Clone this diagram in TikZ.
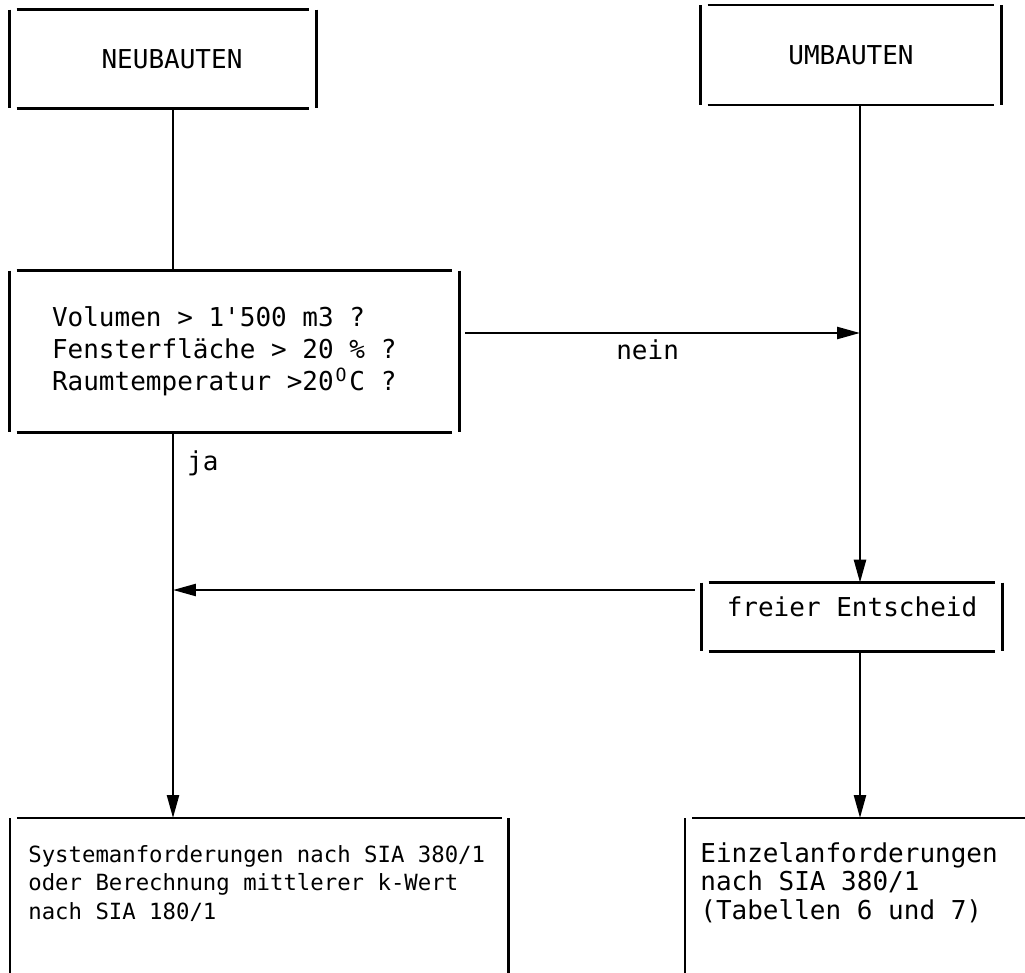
\documentclass[tikz,border=0pt]{standalone}
\usepackage{fontspec}
\setmonofont{DejaVu Sans Mono}
\usetikzlibrary{arrows.meta,calc}
\tikzset{
  boxline/.style  = {line width=1.4pt},
  plain/.style    = {line width=1.4pt},
  flow/.style     = {line width=1.4pt, -{Triangle[length=4.6mm,width=2.4mm]}},
  plotbox/.style  = {inner sep=0pt, font=\ttfamily\fontsize{14.8}{18.2}\selectfont,
                     execute at begin node={\spaceskip=0.602em\xspaceskip=0.602em\relax}},
  tightbox/.style = {font=\ttfamily\fontsize{14.8}{16.2}\selectfont},
  smallbox/.style = {font=\ttfamily\fontsize{12.7}{16.2}\selectfont},
  flowlab/.style  = {font=\ttfamily\fontsize{14.8}{18}\selectfont},
}
% four loose strokes round a box
\newcommand{\drawboxlines}[1]{%
  \draw[boxline] ([xshift=1.4mm]#1.north west) -- ([xshift=-1.4mm]#1.north east);
  \draw[boxline] ([xshift=1.4mm]#1.south west) -- ([xshift=-1.4mm]#1.south east);
  \draw[boxline] (#1.north west) -- (#1.south west);
  \draw[boxline] (#1.north east) -- (#1.south east);
}
% box running off the lower edge
\newcommand{\drawopenlines}[1]{%
  \draw[boxline] ([xshift=1.4mm]#1.north west) -- ([xshift=-1.4mm]#1.north east);
  \draw[boxline] (#1.north west) -- ([yshift=-5cm]#1.north west);
  \draw[boxline] (#1.north east) -- ([yshift=-5cm]#1.north east);
}
\newcommand{\degO}{\makebox[0.602em][c]{\textsuperscript{O}}}

\begin{document}
\begin{tikzpicture}[x=0.02cm, y=-0.02cm]
  \useasboundingbox (0,0) rectangle (1025,973);
  \clip (0,0) rectangle (1025,973);
  \coordinate (lcol) at (173,0);
  \coordinate (rcol) at (860,0);

  \node[plotbox, minimum width=6.12cm, minimum height=1.96cm] (neu) at (163,59) {\hspace*{0.36cm}NEUBAUTEN};
  \node[plotbox, minimum width=6cm, minimum height=1.98cm] (umb) at (851,55) {UMBAUTEN};
  \node[plotbox, text width=7.3cm, inner xsep=0.84cm, minimum height=3.22cm, align=left] (dec) at (234.5,351.5)
    {Volumen > 1'500 m3 ?\\Fensterfläche > 20 \% ?\\Raumtemperatur >20\degO C ?};
  \node[plotbox, minimum width=6cm, minimum height=1.36cm, text height=0.66cm, text depth=0.7cm] (frei) at (852,617) {freier Entscheid};
  \node[plotbox, smallbox, anchor=north west, text width=9.24cm, inner xsep=0.36cm, inner ysep=0.54cm, align=left] (sys) at (10,818)
    {Systemanforderungen nach SIA 380/1\\oder Berechnung mittlerer k-Wert\\nach SIA 180/1};
  \node[plotbox, tightbox, anchor=north west, text width=6.5cm, inner xsep=0.3cm, inner ysep=0.48cm, align=left] (ein) at (685,818)
    {Einzelanforderungen\\nach SIA 380/1\\(Tabellen 6 und 7)};
  \coordinate (jn) at (860,333);
  \coordinate (jj) at (173,590);

  \drawboxlines{neu}
  \drawboxlines{umb}
  \drawboxlines{dec}
  \drawboxlines{frei}
  \drawopenlines{sys}
  \drawopenlines{ein}

  \draw[plain] (neu.south -| lcol) -- (dec.north -| lcol);
  \draw[flow, shorten <=0.12cm] (dec.east |- jn) -- node[flowlab, below, pos=0.47] {nein} (jn);
  \draw[flow] (umb.south -| rcol) -- (frei.north -| rcol);
  \draw[flow] (dec.south -| lcol) -- node[flowlab, right=4pt, pos=0.08] {ja} (sys.north -| lcol);
  \draw[flow, shorten <=0.14cm] (frei.west |- jj) -- (jj);
  \draw[flow] (frei.south -| rcol) -- (ein.north -| rcol);
\end{tikzpicture}
\end{document}
